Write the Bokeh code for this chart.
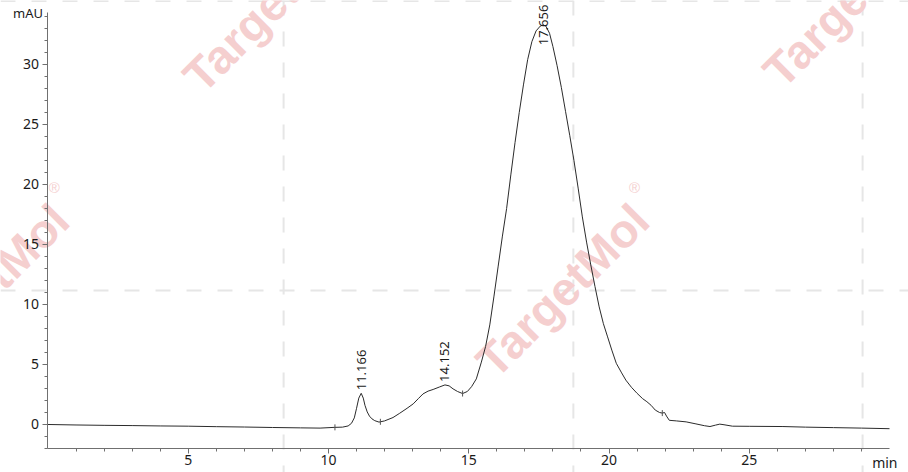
import numpy as np
from bokeh.plotting import figure
from bokeh.models import FixedTicker, Span, Label, LabelSet, ColumnDataSource, Range1d
from bokeh.embed import file_html
from bokeh.resources import INLINE
from bokeh.core.properties import value

# ---- data ----
time_min = [0.0, 1.0, 2.0, 3.0, 4.0, 5.0, 6.0, 7.0, 8.0, 9.0, 9.7, 10.2, 10.5, 10.7,
            10.82, 10.92, 11.0, 11.08, 11.166, 11.24, 11.30, 11.38, 11.46, 11.55, 11.65,
            11.8, 12.0, 12.3, 12.54, 12.8, 13.02, 13.2, 13.37, 13.55, 13.73, 13.95,
            14.152, 14.3, 14.44, 14.6, 14.78, 14.95, 15.1, 15.27, 15.45, 15.6, 15.75,
            15.9, 16.05, 16.2, 16.35, 16.5, 16.65, 16.8, 16.95, 17.1, 17.25, 17.4,
            17.55, 17.656, 17.75, 17.88, 18.0, 18.15, 18.3, 18.45, 18.6, 18.75, 18.9,
            19.05, 19.2, 19.35, 19.5, 19.65, 19.8, 19.95, 20.1, 20.26, 20.45, 20.6,
            20.8, 21.0, 21.2, 21.35, 21.5, 21.65, 21.8, 21.9, 21.98, 22.05, 22.15,
            22.4, 22.75, 23.1, 23.4, 23.6, 23.8, 23.95, 24.1, 24.4, 25.0, 26.2, 27.0,
            28.0, 29.0, 30.0]
absorb_mau = [0.0, -0.04, -0.07, -0.09, -0.12, -0.14, -0.18, -0.21, -0.25, -0.28, -0.30,
              -0.24, -0.22, -0.12, 0.10, 0.55, 1.35, 2.2, 2.6, 2.2, 1.6, 1.05, 0.7, 0.47,
              0.32, 0.2, 0.3, 0.58, 0.94, 1.35, 1.72, 2.15, 2.55, 2.78, 2.92, 3.12, 3.3,
              3.22, 2.97, 2.75, 2.58, 2.75, 3.15, 3.8, 5.2, 6.5, 8.3, 10.7, 13.2, 15.7,
              18.0, 20.8, 23.5, 26.0, 28.3, 30.4, 31.9, 32.8, 33.2, 33.3, 33.2, 32.6,
              31.5, 29.9, 28.1, 26.1, 24.1, 22.0, 19.7, 17.3, 15.2, 13.3, 11.5, 9.8, 8.4,
              7.3, 6.2, 5.1, 4.3, 3.7, 3.1, 2.6, 2.15, 1.9, 1.6, 1.2, 1.0, 0.95, 1.0, 0.7,
              0.35, 0.30, 0.22, 0.05, -0.10, -0.17, -0.05, 0.03, -0.02, -0.14, -0.15,
              -0.17, -0.22, -0.26, -0.30, -0.35]
peak_rt = [11.166, 14.152, 17.656]
peak_labels = ["11.166", "14.152", "17.656"]
event_times = [10.23, 11.85, 14.78, 21.9]
x_ticks = [5, 10, 15, 20, 25]
y_ticks = [0, 5, 10, 15, 20, 25, 30]
x_axis_span = (0, 30)
y_axis_span = (-2, 34.33)
watermark_text = "TargetMol"
watermark_centers = [(18.34, 11.17), (7.90, 34.92), (28.57, 35.33), (-2.34, 11.17)]
grid_x = [8.40, 18.73, 29.04]
grid_y = [11.17, 35.30]

FONT = "Noto Sans"
TXT = "#1a1a1a"
AXC = "#707070"
WM = "#f5cfcf"

p = figure(width=908, height=472,
           x_range=Range1d(-1.693, 30.677), y_range=Range1d(-4.0, 35.333),
           output_backend="svg", toolbar_location=None,
           min_border_left=0, min_border_right=0, min_border_top=0, min_border_bottom=0)
p.outline_line_color = None
p.xgrid.visible = False
p.ygrid.visible = False
p.background_fill_color = "white"

# watermark tile lines
for gx in grid_x:
    p.add_layout(Span(location=gx, dimension="height", line_color="#e6e6e6",
                      line_width=2, line_dash="15 16", level="underlay"))
for gy in grid_y:
    p.add_layout(Span(location=gy, dimension="width", line_color="#e6e6e6",
                      line_width=2, line_dash="15 16", level="underlay"))

# watermarks
for cx, cy in watermark_centers:
    p.add_layout(Label(x=cx, y=cy, text=watermark_text, angle=np.pi / 4,
                       text_align="center", text_baseline="middle",
                       text_font="Liberation Sans", text_font_style="bold",
                       text_font_size="47px", text_color=WM, level="underlay"))
    p.add_layout(Label(x=cx, y=cy, text="\u00ae", x_offset=72, y_offset=103,
                       text_align="center", text_baseline="middle",
                       text_font="Liberation Sans", text_font_size="15px",
                       text_color=WM, level="underlay"))

# trace
p.line(time_min, absorb_mau, line_color="#2b2b2b", line_width=1)

# integration event marks
ev_y = np.interp(event_times, time_min, absorb_mau)
p.scatter(event_times, ev_y, marker="dash", angle=np.pi / 2, size=6,
          line_color="#555555", line_width=1)

# peak labels
pk_h = np.interp(peak_rt, time_min, absorb_mau)
lab_y = np.minimum(pk_h + 0.25, 31.6)
src = ColumnDataSource(dict(x=peak_rt, y=lab_y, t=peak_labels))
p.add_layout(LabelSet(x="x", y="y", text="t", source=src, angle=np.pi / 2,
                      text_align="left", text_baseline="middle",
                      text_font_size=value("13px"), text_font=value(FONT),
                      text_color=value(TXT)))

# axes drawn at fixed data locations (inside the canvas)
p.xaxis.fixed_location = y_axis_span[0]
p.yaxis.fixed_location = x_axis_span[0]
p.xaxis.bounds = x_axis_span
p.yaxis.bounds = y_axis_span
for ax in (p.xaxis[0], p.yaxis[0]):
    ax.axis_line_color = AXC
    ax.major_tick_line_color = AXC
    ax.minor_tick_line_color = AXC
    ax.major_tick_in = 0
    ax.minor_tick_in = 0
    ax.major_tick_out = 5
    ax.minor_tick_out = 3
    ax.major_label_text_font = FONT
    ax.major_label_text_font_size = "14px"
    ax.major_label_text_color = TXT

p.xaxis.ticker = FixedTicker(ticks=x_ticks, minor_ticks=list(range(1, 30)))
p.yaxis.ticker = FixedTicker(ticks=y_ticks, minor_ticks=list(range(-2, 35)))
p.xaxis.major_label_standoff = 2
p.yaxis.major_label_standoff = 4

p.add_layout(Label(x=x_axis_span[0], y=34.25, text="mAU", x_offset=-5, text_align="right",
                   text_baseline="middle", text_font=FONT, text_font_size="13px",
                   text_color=TXT))
p.add_layout(Label(x=x_axis_span[1], y=y_axis_span[0], text="min", x_offset=8, y_offset=-14,
                   text_align="right", text_baseline="middle", text_font=FONT,
                   text_font_size="14px", text_color=TXT))

open("out.html", "w").write(file_html(p, INLINE))
